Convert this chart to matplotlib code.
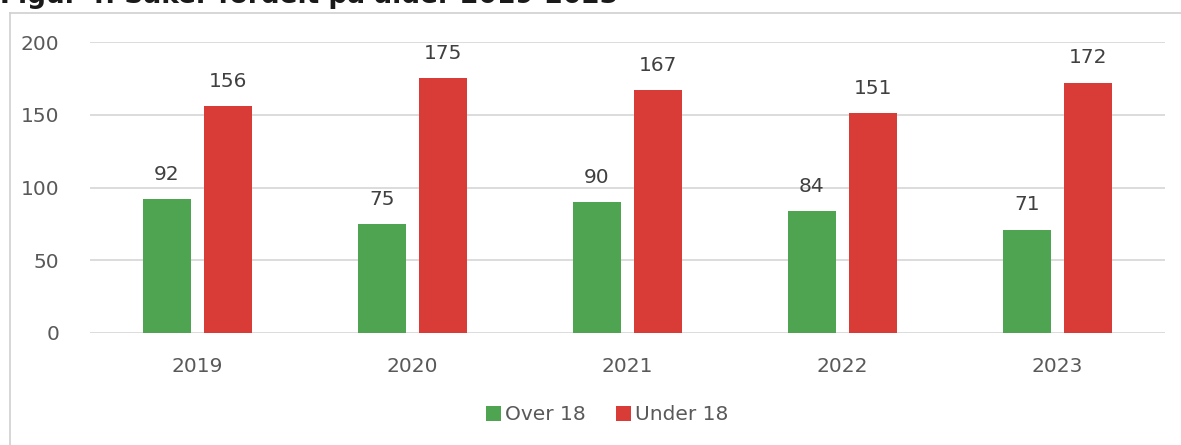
import numpy as np
import matplotlib.pyplot as plt
from matplotlib.lines import Line2D

years = ["2019", "2020", "2021", "2022", "2023"]
over_18 = [92, 75, 90, 84, 71]
under_18 = [156, 175, 167, 151, 172]

green = "#4EA450"
red = "#D93B37"
text_col = "#595959"

fig = plt.figure(figsize=(11.81, 4.45), dpi=100)
ax = fig.add_axes([90 / 1181, 1 - 333 / 445, 1075 / 1181, 291 / 445])

x = np.arange(len(years))
w = 0.223
b1 = ax.bar(x - 0.143, over_18, w, color=green, label="Over 18")
b2 = ax.bar(x + 0.143, under_18, w, color=red, label="Under 18")

for bars, vals in ((b1, over_18), (b2, under_18)):
    for bar, v in zip(bars, vals):
        ax.annotate(str(v), (bar.get_x() + bar.get_width() / 2, v),
                    xytext=(0, 11), textcoords="offset points",
                    ha="center", va="bottom", fontsize=14.5, color="#404040")

ax.set_xlim(-0.5, len(years) - 0.5)
ax.set_ylim(0, 200)
ax.set_yticks([0, 50, 100, 150, 200])
ax.set_xticks(x)
ax.set_xticklabels(years)
ax.tick_params(axis="both", length=0, labelsize=14.5, labelcolor=text_col)
ax.tick_params(axis="y", pad=22)
ax.tick_params(axis="x", pad=17)
ax.grid(axis="y", color="#D9D9D9", linewidth=1.3)
ax.set_axisbelow(True)
for s in ax.spines.values():
    s.set_visible(False)

# chart area border: only the top and left edges fall inside the picture
bx = 10 / 1181
by = 1 - 13 / 445
fig.add_artist(Line2D([bx, 1.0], [by, by], transform=fig.transFigure,
                      color="#D0D0D0", linewidth=1.2))
fig.add_artist(Line2D([bx, bx], [0.0, by], transform=fig.transFigure,
                      color="#D0D0D0", linewidth=1.2))

fig.text(0.0, 1 - 3 / 445, "Figur 4. Saker fordelt på alder 2019-2023",
         fontsize=19, fontweight="bold", color="#1a1a1a", va="baseline")

fig.legend(handles=[b1, b2], loc="center", bbox_to_anchor=(607 / 1181, 1 - 415 / 445),
           ncol=2, frameon=False, fontsize=14.5, labelcolor=text_col,
           handlelength=0.75, handleheight=0.75, handletextpad=0.2, columnspacing=1.5)

fig.savefig("out.png", dpi=100)
